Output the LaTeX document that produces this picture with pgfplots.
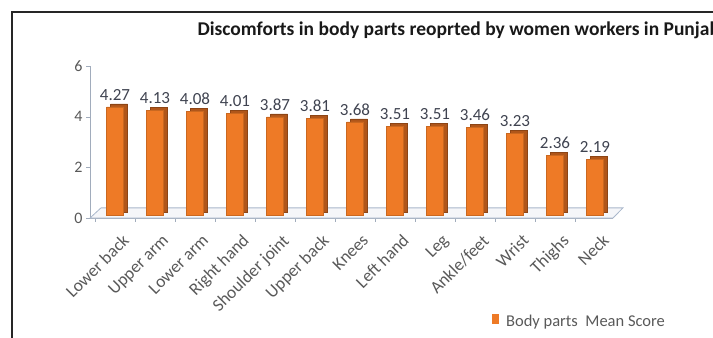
\documentclass[border=0pt]{standalone}
\usepackage{pgfplots}
\pgfplotsset{compat=1.18}
\usepackage{fontspec}
\setmainfont{Carlito}
\definecolor{barfront}{HTML}{EE7A26}
\definecolor{barside}{HTML}{B0561A}
\definecolor{floorline}{HTML}{A9B7CB}
\definecolor{ticktext}{HTML}{595959}
\definecolor{labtext}{HTML}{3F4350}
\begin{document}
\begin{tikzpicture}
\useasboundingbox (0,0) rectangle (713bp,338bp);
\clip (0,0) rectangle (713bp,338bp);
\draw[line width=1.3bp, black!85] (12bp,-2bp) -- (12bp,326bp) -- (715bp,326bp);
\node[anchor=west, font=\fontsize{19.5bp}{21bp}\selectfont\bfseries, text=black!90] at (194bp,308bp) {Discomforts in body parts reoprted by women workers in Punjab};
\begin{axis}[
  at={(90bp,120bp)}, anchor=south west,
  scale only axis, width=523bp, height=152bp,
  xmin=-0.625, xmax=12.45, ymin=0, ymax=6,
  ybar, bar width=17bp, bar shift=0pt,
  axis x line*=bottom, axis y line*=left,
  axis line style={draw=floorline!80!gray, line width=0.8bp},
  xtick={0,...,12},
  xticklabels={Lower back,Upper arm,Lower arm,Right hand,Shoulder joint,Upper back,Knees,Left hand,Leg,Ankle/feet,Wrist,Thighs,Neck},
  x tick label style={rotate=45, anchor=north east, font=\fontsize{17.5bp}{19bp}\selectfont, text=ticktext, xshift=0bp, yshift=-9bp},
  major x tick style={draw=none},
  minor xtick={-0.5,0.5,...,12.5},
  minor x tick style={draw=floorline!80!gray},
  minor tick length=4bp,
  ytick={0,2,4,6},
  y tick label style={font=\fontsize{16bp}{18bp}\selectfont, text=ticktext},
  /pgf/number format/assume math mode=true,
  major y tick style={draw=floorline!80!gray},
  major tick length=4bp,
  tick align=outside,
  clip=false,
  legend style={at={(0.762,-0.684)}, anchor=west, draw=none, fill=none, font=\fontsize{16.5bp}{18bp}\selectfont, text=ticktext},
  legend image code/.code={\fill[barfront] (0bp,-4.5bp) rectangle (6bp,4.5bp);},
]
\addplot[sharp plot, draw=floorline, fill=floorline!12, line width=0.8bp, forget plot] coordinates {
(-0.625,0) (-0.35,0.4) (12.7,0.4) (12.45,0) (-0.625,0)};
\addplot[fill=barside, draw=barside!80!black, xshift=4bp, yshift=6bp, forget plot] coordinates {
(0,4.27) (1,4.13) (2,4.08) (3,4.01) (4,3.87) (5,3.81) (6,3.68) (7,3.51) (8,3.51) (9,3.46) (10,3.23) (11,2.36) (12,2.19)};
\addplot[fill=barfront, draw=barfront!85!black, yshift=3bp,
  nodes near coords, point meta=explicit symbolic,
  every node near coord/.append style={font=\fontsize{17bp}{19bp}\selectfont, text=labtext, yshift=3bp}]
  coordinates {
(0,4.27) [4.27] (1,4.13) [4.13] (2,4.08) [4.08] (3,4.01) [4.01] (4,3.87) [3.87] (5,3.81) [3.81] (6,3.68) [3.68] (7,3.51) [3.51] (8,3.51) [3.51] (9,3.46) [3.46] (10,3.23) [3.23] (11,2.36) [2.36] (12,2.19) [2.19]};
\addlegendentry{\hspace{6bp}Body parts\ \ Mean Score}
\end{axis}
\end{tikzpicture}
\end{document}
